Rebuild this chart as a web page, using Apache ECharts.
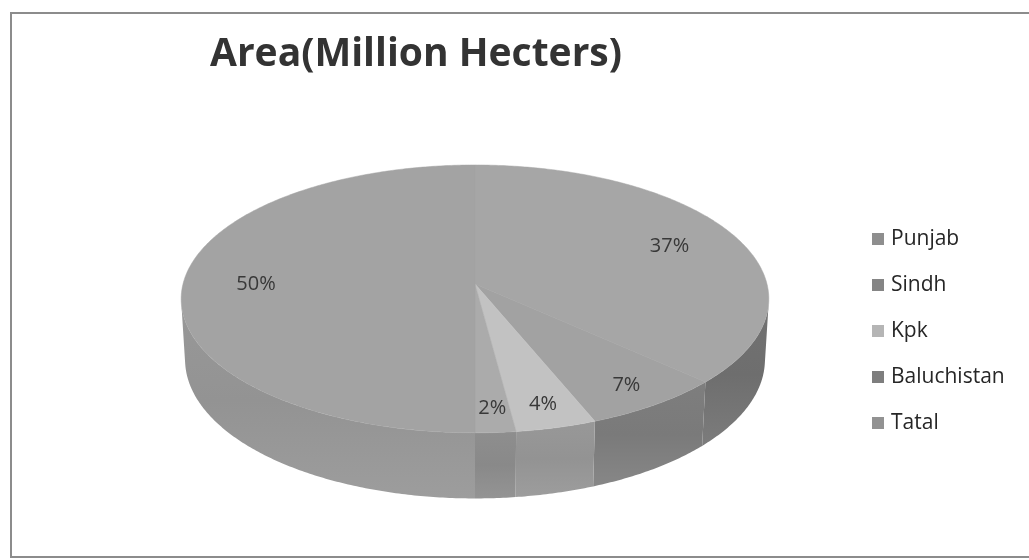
<!DOCTYPE html>
<html>
<head>
<meta charset="utf-8">
<script src="https://cdn.jsdelivr.net/npm/echarts@6/dist/echarts.min.js"></script>
<style>
  html, body { margin: 0; padding: 0; background: #ffffff; }
  #chart { width: 1029px; height: 560px; }
</style>
</head>
<body>
<div id="chart"></div>
<script>
// Area (million hectares) by province
const categories = ['Punjab', 'Sindh', 'Kpk', 'Baluchistan', 'Tatal'];
const areaValues = [37, 7, 4, 2, 50];

// Grey palette: top faces, side walls and legend swatches
const topColors  = ['#a6a6a6', '#a2a2a2', '#c2c2c2', '#ababab', '#a3a3a3'];
const sideColors = ['#6e6e6e', '#7a7a7a', '#939393', '#898989', '#939393'];
const keyColors  = ['#8e8e8e', '#858585', '#b5b5b5', '#7e7e7e', '#929292'];

// 3D pie view: disc of unit radius, tilted, seen in perspective
const VIEW = { cx: 475, cy: 284, scale: 292, sinT: 0.453, cosT: 0.891, dist: 8, height: 0.235 };

const total = areaValues.reduce((a, b) => a + b, 0);
let acc = 0;
const sliceData = areaValues.map((v, i) => {
  const start = acc / total;
  acc += v;
  return { name: categories[i], value: [start, acc / total, v, i] };
});

// theta runs clockwise from 12 o'clock; h = 0 on the top face, -height on the bottom rim
function project(theta, r, h) {
  const x = r * Math.sin(theta), z = r * Math.cos(theta), y = h;
  const u = y * VIEW.cosT + z * VIEW.sinT;
  const d = z * VIEW.cosT - y * VIEW.sinT;
  const f = VIEW.dist / (VIEW.dist + d);
  return [VIEW.cx + VIEW.scale * x * f, VIEW.cy - VIEW.scale * u * f];
}

function rim(a0, a1, h) {
  const pts = [];
  const n = Math.max(2, Math.ceil((a1 - a0) / 0.01));
  for (let k = 0; k <= n; k++) pts.push(project(a0 + (a1 - a0) * k / n, 1, h));
  return pts;
}

const TAU = Math.PI * 2;
// silhouette of the cylinder wall as seen from the camera
const sideHalf = Math.acos(1 / (VIEW.dist * VIEW.cosT));
const SIDE_MIN = Math.PI - sideHalf, SIDE_MAX = Math.PI + sideHalf;

function renderSide(params, api) {
  const a0 = api.value(0) * TAU, a1 = api.value(1) * TAU, idx = api.value(3);
  const s = Math.max(a0, SIDE_MIN), e = Math.min(a1, SIDE_MAX);
  if (e <= s) return { type: 'group', children: [] };
  const top = rim(s, e, 0);
  const bottom = rim(s, e, -VIEW.height).reverse();
  const base = sideColors[idx];
  return {
    type: 'polygon',
    shape: { points: top.concat(bottom) },
    style: {
      fill: {
        type: 'linear', x: 0, y: 0, x2: 0, y2: 1, global: false,
        colorStops: [
          { offset: 0, color: echarts.color.lift(base, -0.04) },
          { offset: 0.5, color: base },
          { offset: 1, color: echarts.color.lift(base, 0.1) }
        ]
      },
      stroke: null
    }
  };
}

function renderTop(params, api) {
  const a0 = api.value(0) * TAU, a1 = api.value(1) * TAU;
  const v = api.value(2), idx = api.value(3);
  const pts = [project(0, 0, 0)].concat(rim(a0, a1, 0));
  // wide slices carry their label further inside
  const labelR = (a1 - a0) > TAU / 4 ? 0.75 : 0.85;
  const pos = project((a0 + a1) / 2, labelR, 0);
  return {
    type: 'group',
    children: [
      { type: 'polygon', shape: { points: pts }, style: { fill: topColors[idx], stroke: topColors[idx], lineWidth: 0.5 } },
      {
        type: 'text', z2: 10,
        style: {
          x: pos[0], y: pos[1],
          text: Math.round(v / total * 100) + '%',
          fill: '#383838', font: '20px "Open Sans", Lato, sans-serif',
          align: 'center', verticalAlign: 'middle'
        }
      }
    ]
  };
}

const chart = echarts.init(document.getElementById('chart'), null, { renderer: 'canvas' });

chart.setOption({
  backgroundColor: '#ffffff',
  animation: false,
  title: {
    text: 'Area(Million Hecters)',
    left: 205, top: 30,
    textStyle: { fontFamily: '"Open Sans", Lato, sans-serif', fontWeight: 'bold', fontSize: 39, color: '#333333' }
  },
  legend: {
    orient: 'vertical',
    left: 867, top: 220,
    itemWidth: 12, itemHeight: 12, itemGap: 18,
    icon: 'rect',
    selectedMode: false,
    data: categories,
    textStyle: { fontFamily: '"Open Sans", Lato, sans-serif', fontSize: 21, lineHeight: 28, color: '#262626', padding: [0, 0, 0, 2] }
  },
  graphic: [{
    type: 'rect', silent: true,
    shape: { x: 11, y: 13, width: 1030, height: 544 },
    style: { fill: null, stroke: '#8c8c8c', lineWidth: 2 }
  }],
  series: [
    {
      // legend swatches only
      type: 'pie', name: 'Area', silent: true,
      center: [-200, -200], radius: [0, 1],
      label: { show: false }, labelLine: { show: false },
      data: categories.map((c, i) => ({ name: c, value: areaValues[i], itemStyle: { color: keyColors[i] } }))
    },
    {
      type: 'custom', name: 'sides', coordinateSystem: 'none', silent: true, z: 1,
      renderItem: renderSide, data: sliceData
    },
    {
      type: 'custom', name: 'tops', coordinateSystem: 'none', silent: true, z: 2,
      renderItem: renderTop, data: sliceData
    }
  ]
});
</script>
</body>
</html>
